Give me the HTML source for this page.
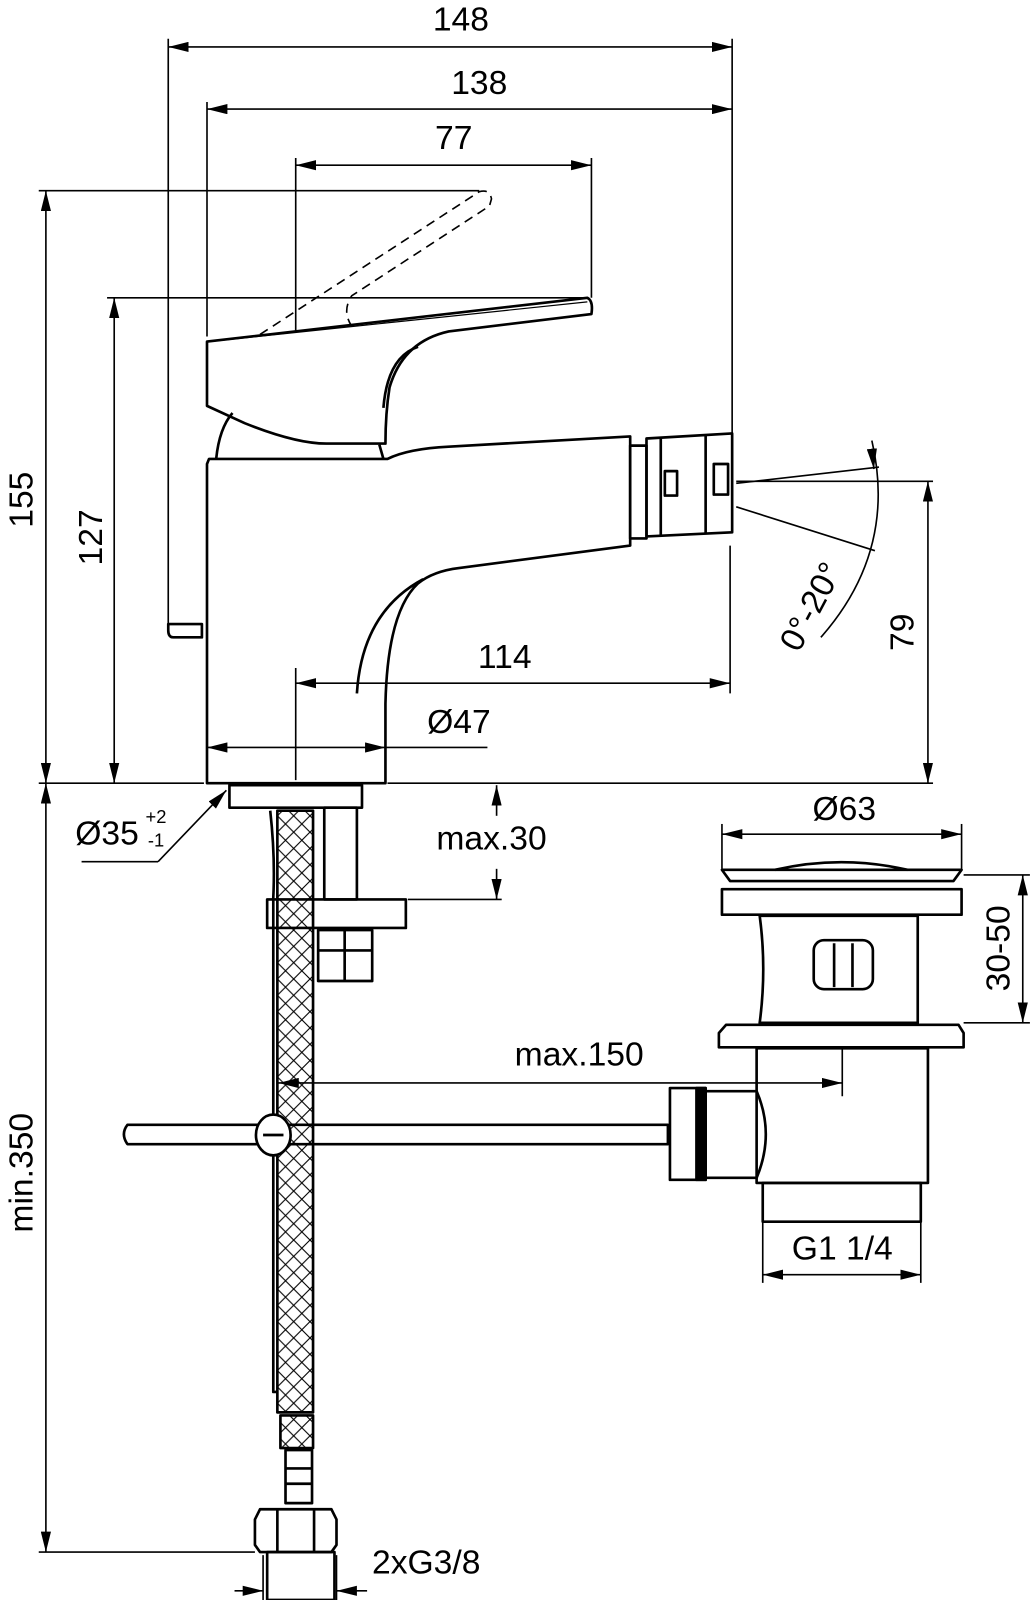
<!DOCTYPE html>
<html><head><meta charset="utf-8"><style>html,body{margin:0;padding:0;background:#fff}svg{display:block}</style></head>
<body>
<svg width="1035" height="1600" viewBox="0 0 1015 1569" preserveAspectRatio="none" xmlns="http://www.w3.org/2000/svg" font-family="'Liberation Sans', sans-serif">
<defs>
<marker id="a" viewBox="0 0 20 10" refX="20" refY="5" markerWidth="20" markerHeight="10" markerUnits="userSpaceOnUse" orient="auto-start-reverse"><path d="M0,0 L20,5 L0,10 z" fill="#000"/></marker>
<pattern id="br" width="16" height="16" patternUnits="userSpaceOnUse"><path d="M0,0 L16,16 M16,0 L0,16" stroke="#000" stroke-width="1.1" fill="none"/></pattern>
</defs>
<rect width="1015" height="1569" fill="#fff"/>
<g stroke="#000" stroke-width="1.6" fill="none">
<line x1="165" y1="38" x2="165" y2="615"/>
<line x1="718" y1="38" x2="718" y2="425"/>
<line x1="203" y1="100" x2="203" y2="330"/>
<line x1="290" y1="155" x2="290" y2="325"/>
<line x1="580" y1="155" x2="580" y2="292"/>
<line x1="38" y1="187" x2="470" y2="187"/>
<line x1="105" y1="292" x2="575" y2="292"/>
<line x1="38" y1="768" x2="200" y2="768"/>
<line x1="380" y1="768" x2="915" y2="768"/>
<line x1="722" y1="472" x2="915" y2="472"/>
<line x1="716" y1="535" x2="716" y2="680"/>
<line x1="290" y1="655" x2="290" y2="765"/>
<line x1="378" y1="733" x2="478" y2="733"/>
<line x1="400" y1="882" x2="492" y2="882"/>
<line x1="708" y1="808" x2="708" y2="852"/>
<line x1="943" y1="808" x2="943" y2="852"/>
<line x1="945" y1="858" x2="1010" y2="858"/>
<line x1="945" y1="1003" x2="1010" y2="1003"/>
<line x1="826" y1="1028" x2="826" y2="1075"/>
<line x1="748" y1="1165" x2="748" y2="1258"/>
<line x1="903" y1="1165" x2="903" y2="1258"/>
<line x1="38" y1="1522" x2="250" y2="1522"/>
<line x1="258" y1="1525" x2="258" y2="1569"/>
<line x1="330" y1="1525" x2="330" y2="1569"/>
<line x1="722" y1="474" x2="862" y2="458"/>
<line x1="722" y1="497" x2="858" y2="540"/>
<path d="M855,432 Q880,540 805,625"/>
<line x1="165" y1="46" x2="718" y2="46" marker-start="url(#a)" marker-end="url(#a)"/>
<line x1="203" y1="107" x2="718" y2="107" marker-start="url(#a)" marker-end="url(#a)"/>
<line x1="290" y1="162" x2="580" y2="162" marker-start="url(#a)" marker-end="url(#a)"/>
<line x1="45" y1="187" x2="45" y2="768" marker-start="url(#a)" marker-end="url(#a)"/>
<line x1="112" y1="292" x2="112" y2="768" marker-start="url(#a)" marker-end="url(#a)"/>
<line x1="910" y1="472" x2="910" y2="768" marker-start="url(#a)" marker-end="url(#a)"/>
<line x1="290" y1="670" x2="716" y2="670" marker-start="url(#a)" marker-end="url(#a)"/>
<line x1="203" y1="733" x2="378" y2="733" marker-start="url(#a)" marker-end="url(#a)"/>
<line x1="45" y1="768" x2="45" y2="1522" marker-start="url(#a)" marker-end="url(#a)"/>
<line x1="487" y1="800" x2="487" y2="770" marker-end="url(#a)"/>
<line x1="487" y1="852" x2="487" y2="882" marker-end="url(#a)"/>
<line x1="708" y1="818" x2="943" y2="818" marker-start="url(#a)" marker-end="url(#a)"/>
<line x1="1003" y1="858" x2="1003" y2="1003" marker-start="url(#a)" marker-end="url(#a)"/>
<line x1="273" y1="1062" x2="826" y2="1062" marker-start="url(#a)" marker-end="url(#a)"/>
<line x1="748" y1="1250" x2="903" y2="1250" marker-start="url(#a)" marker-end="url(#a)"/>
<line x1="230" y1="1560" x2="258" y2="1560" marker-end="url(#a)"/>
<line x1="360" y1="1560" x2="330" y2="1560" marker-end="url(#a)"/>
<line x1="855" y1="440" x2="857" y2="460" marker-end="url(#a)"/>
<line x1="80" y1="845" x2="155" y2="845"/>
<line x1="155" y1="845" x2="222" y2="775" marker-end="url(#a)"/>
<path d="M255,328 L470,188 Q480,185 482,195 L480,202 L345,290 Q335,305 345,320" stroke-dasharray="9,6"/>
</g>
<g stroke="#000" stroke-width="2.6" fill="none" stroke-linejoin="round">
<path d="M205,450 L203,455 L203,768 L378,768 L378,690 Q380,600 410,572 Q425,560 450,557 L618,535 L618,428 L440,438 Q400,440 380,450 L210,450 Z"/>
<path d="M350,680 Q355,600 415,568"/>
<path d="M203,335 L576,292 Q582,295 580,308 L440,325 Q395,335 382,380 Q378,405 378,435 L320,435 Q290,435 240,415 L203,398 Z"/>
<path d="M376,400 Q380,350 410,340"/>
<path d="M205,335 L576,296" stroke-width="1.2"/>
<path d="M212,450 Q215,420 228,405"/>
<path d="M372,436 L376,450"/>
<rect x="618" y="437" width="16" height="91"/>
<path d="M634,430 L718,425 L718,522 L634,526 Z"/>
<line x1="648" y1="428" x2="648" y2="526"/>
<line x1="692" y1="426" x2="692" y2="524"/>
<rect x="652" y="462" width="12" height="24"/>
<rect x="700" y="455" width="14" height="30"/>
<path d="M165,612 L198,612 L198,625 L170,625 Q165,625 165,618 Z"/>
<rect x="225" y="770" width="130" height="22"/>
<rect x="272" y="795" width="35" height="590" fill="url(#br)"/>
<path d="M265,795 Q270,840 268,880 L268,1365 L272,1365"/>
<rect x="318" y="792" width="32" height="90"/>
<path d="M262,882 L398,882 L398,910 L262,910 Z"/>
<path d="M312,912 L365,912 L365,962 L312,962 Z M312,932 L365,932 M338,912 L338,962" />
<path d="M125,1103 L655,1103 L655,1122 L125,1122 Q118,1112 125,1103 Z"/>
<ellipse cx="268" cy="1113" rx="17" ry="20" fill="#fff"/>
<path d="M258,1113 L278,1113" />
<path d="M708,853 L943,853 L935,864 L716,864 Z"/>
<path d="M760,853 Q825,838 890,853"/>
<rect x="708" y="872" width="235" height="25"/>
<path d="M745,898 L900,898 L900,1003 L745,1003 Q752,950 745,898 Z"/>
<rect x="798" y="922" width="58" height="48" rx="10"/>
<line x1="818" y1="925" x2="818" y2="968"/><line x1="836" y1="925" x2="836" y2="968"/>
<path d="M712,1005 L940,1005 L945,1013 L945,1027 L705,1027 L705,1013 Z"/>
<path d="M742,1028 L910,1028 L910,1160 L742,1160 Z"/>
<path d="M748,1160 L903,1160 L903,1198 L748,1198 Z"/>
<path d="M692,1070 L742,1070 Q760,1112 742,1155 L692,1155 Z"/>
<rect x="657" y="1067" width="35" height="90"/>
<rect x="683" y="1067" width="9" height="90" fill="#000"/>
<rect x="275" y="1388" width="32" height="32" fill="url(#br)"/>
<rect x="280" y="1422" width="26" height="52"/>
<line x1="280" y1="1440" x2="306" y2="1440"/><line x1="280" y1="1455" x2="306" y2="1455"/>
<path d="M255,1480 L325,1480 L330,1490 L330,1515 L325,1522 L255,1522 L250,1515 L250,1490 Z"/>
<line x1="272" y1="1480" x2="272" y2="1522"/><line x1="308" y1="1480" x2="308" y2="1522"/>
<rect x="262" y="1522" width="66" height="47"/>
</g>
<g font-size="33" fill="#000" text-anchor="middle">
<text x="452" y="30">148</text>
<text x="470" y="92">138</text>
<text x="445" y="146">77</text>
<text x="495" y="655">114</text>
<text x="450" y="719">Ø47</text>
<text x="482" y="833">max.30</text>
<text x="828" y="804">Ø63</text>
<text x="568" y="1045">max.150</text>
<text x="826" y="1235">G1 1/4</text>
<text x="418" y="1543">2xG3/8</text>
<text transform="translate(32,490) rotate(-90)">155</text>
<text transform="translate(100,527) rotate(-90)">127</text>
<text transform="translate(896,620) rotate(-90)">79</text>
<text transform="translate(990,930) rotate(-90)">30-50</text>
<text transform="translate(32,1150) rotate(-90)">min.350</text>
<text transform="translate(805,600) rotate(-62)">0°-20°</text>
<text x="105" y="828">Ø35</text>
<text x="153" y="807" font-size="18">+2</text>
<text x="153" y="830" font-size="18">-1</text>
</g>
</svg>
</body></html>
